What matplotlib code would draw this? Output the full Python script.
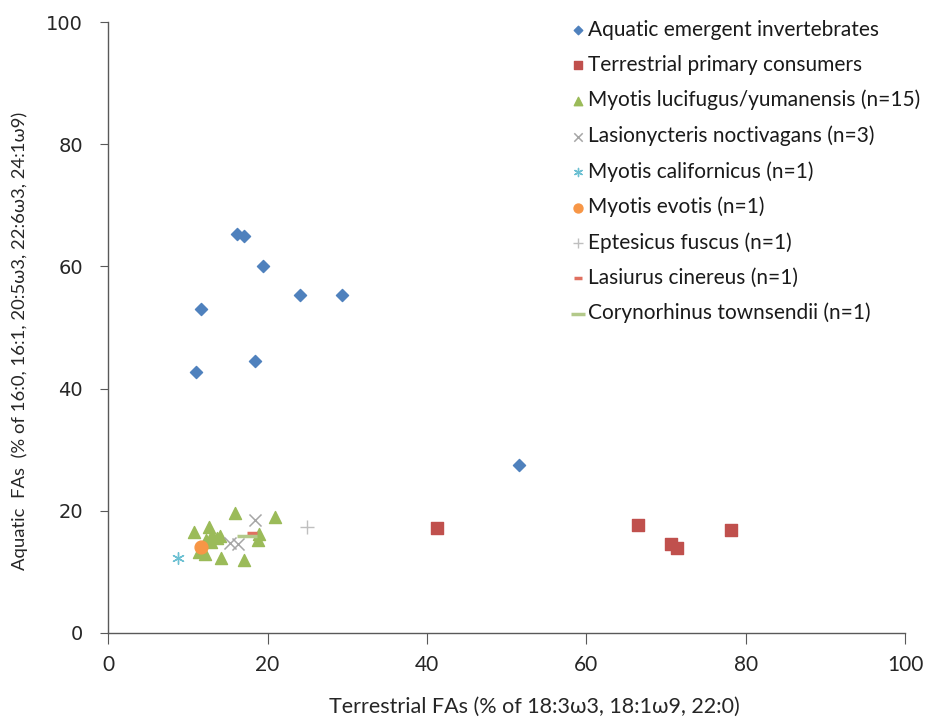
import matplotlib.pyplot as plt

# aquatic emergent invertebrates
aq_x = [16.2, 17.1, 19.4, 24.1, 29.3, 11.6, 18.4, 11.0, 51.6]
aq_y = [65.3, 65.0, 60.0, 55.4, 55.4, 53.0, 44.6, 42.8, 27.5]

# terrestrial primary consumers
te_x = [41.3, 66.5, 70.6, 71.4, 78.1]
te_y = [17.2, 17.6, 14.5, 13.9, 16.9]

# Myotis lucifugus/yumanensis
ml_x = [15.9, 20.9, 10.8, 12.6, 13.0, 13.6, 14.0, 12.3, 18.9, 18.8, 11.4, 12.2, 14.2, 17.0, 12.9]
ml_y = [19.7, 19.0, 16.5, 17.4, 16.0, 15.5, 15.9, 15.3, 16.2, 15.3, 13.2, 13.0, 12.3, 12.0, 14.9]

# Lasionycteris noctivagans
ln_x = [18.4, 15.3, 16.3]
ln_y = [18.5, 14.7, 14.6]

mc_x, mc_y = [8.8], [12.3]    # Myotis californicus
me_x, me_y = [11.7], [14.0]   # Myotis evotis
ef_x, ef_y = [25.0], [17.3]   # Eptesicus fuscus
lc_x, lc_y = [18.1], [16.3]   # Lasiurus cinereus
ct_x, ct_y = [17.4], [15.8]   # Corynorhinus townsendii

ticks = [0, 20, 40, 60, 80, 100]

plt.rcParams['font.family'] = ['Lato', 'DejaVu Sans']

fig = plt.figure(figsize=(9.4, 7.23), dpi=100)
ax = fig.add_axes([0.115, 0.1245, 0.848, 0.845])

ax.scatter(aq_x, aq_y, marker='D', s=38, color='#4F81BD', label='Aquatic emergent invertebrates', zorder=3)
ax.scatter(te_x, te_y, marker='s', s=80, color='#C0504D', label='Terrestrial primary consumers', zorder=3)
ax.scatter(ml_x, ml_y, marker='^', s=75, color='#9BBB59', label='Myotis lucifugus/yumanensis (n=15)', zorder=3)
ax.scatter(ln_x, ln_y, marker='x', s=75, color='#A6A6A6', linewidths=1.1, label='Lasionycteris noctivagans (n=3)', zorder=4)
ax.scatter(mc_x, mc_y, marker=(6, 2, 0), s=70, color='#6CC0D2', linewidths=1.0, label='Myotis californicus (n=1)', zorder=4)
ax.scatter(me_x, me_y, marker='o', s=85, color='#F79646', label='Myotis evotis (n=1)', zorder=5)
ax.scatter(ef_x, ef_y, marker='+', s=90, color='#BFBFBF', linewidths=1.0, label='Eptesicus fuscus (n=1)', zorder=4)
ax.scatter(lc_x, lc_y, marker='_', s=60, color='#E07060', linewidths=2.5, label='Lasiurus cinereus (n=1)', zorder=4)
ax.scatter(ct_x, ct_y, marker='_', s=200, color='#B3C98A', linewidths=2.5, label='Corynorhinus townsendii (n=1)', zorder=4)

ax.set_xlim(0, 100)
ax.set_ylim(0, 100)
ax.set_xticks(ticks)
ax.set_yticks(ticks)
ax.spines['top'].set_visible(False)
ax.spines['right'].set_visible(False)
for s in ['left', 'bottom']:
    ax.spines[s].set_color('#595959')
    ax.spines[s].set_linewidth(1.0)
ax.tick_params(direction='out', color='#595959', labelcolor='#262626')
ax.tick_params(axis='x', length=8, labelsize=15, pad=8)
ax.tick_params(axis='y', length=6, labelsize=14, pad=12)
for lbl in ax.get_yticklabels():
    lbl.set_family('DejaVu Sans')

ax.set_xlabel('Terrestrial FAs (% of 18:3ω3, 18:1ω9, 22:0)', fontsize=15.5, color='#262626')
ax.set_ylabel('Aquatic  FAs  (% of 16:0, 16:1, 20:5ω3, 22:6ω3, 24:1ω9)', fontsize=13.3, color='#262626')
ax.xaxis.set_label_coords(0.535, -0.104)
ax.yaxis.set_label_coords(-0.100, 0.478)

ax.legend(loc='upper left', bbox_to_anchor=(0.597, 0.984), bbox_transform=fig.transFigure,
          frameon=False, fontsize=15, handletextpad=0.1, handlelength=0.8,
          labelspacing=0.72, scatterpoints=1, markerscale=0.7, borderaxespad=0,
          labelcolor='#1a1a1a')

fig.savefig('out.png', dpi=100)
